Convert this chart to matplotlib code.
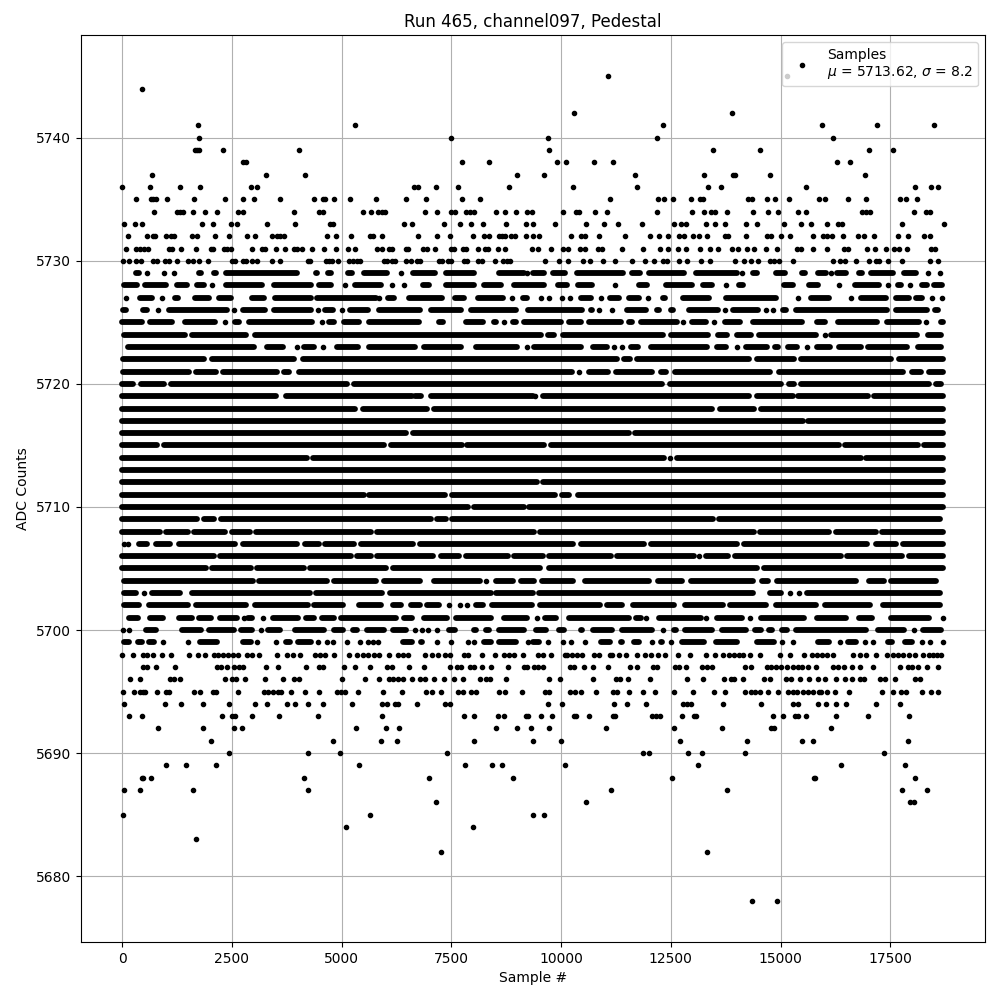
#!/usr/bin/env python3
"""Pedestal samples for run 465, channel 097."""

import matplotlib
matplotlib.use('Agg')
import matplotlib.pyplot as plt

# Sparse ADC levels: sample numbers, one list per level
dots_5745 = [11121, 15204]
dots_5744 = [472]
dots_5742 = [10344, 13955]
dots_5741 = [1752, 5340, 12378, 16011, 17268, 18570]
dots_5740 = [1775, 7526, 9750, 12241, 16263]
dots_5739 = [1683, 1729, 1767, 2323, 4060, 9773, 13520, 14594, 17085, 17634]
dots_5738 = [2780, 2841, 7785, 8402, 9956, 10161, 10801, 11235, 16354, 16651]
dots_5737 = [701, 3306, 4197, 9041, 9659, 11738, 13315, 13977, 14023, 14823, 16994]
dots_5736 = [15, 655, 1341, 1798, 2963, 3100, 6688, 6780, 7190, 7693, 8859, 10321, 11784,
             13406, 13703, 15646, 18136, 18502, 18662]
dots_5735 = [320, 678, 724, 792, 1044, 1660, 2369, 2780, 3032, 3626, 4403, 4593, 4639, 4860,
             5225, 5819, 6505, 6962, 7785, 8196, 11167, 12264, 12401, 12606, 13018, 13223,
             13292, 14320, 14411, 14754, 14937, 15257, 15943, 16080, 16605, 17017, 17793,
             17930, 18182]
dots_5734 = [746, 1272, 1333, 1409, 1638, 1912, 2186, 2666, 2780, 3946, 4517, 4608, 5522, 5705,
             5865, 5957, 6025, 6939, 7213, 7526, 7625, 7861, 7960, 8059, 8562, 8767, 9019,
             9255, 9384, 10093, 10390, 10458, 10824, 11098, 12241, 13041, 13315, 13475, 13566,
             13840, 14434, 14777, 15006, 15463, 15646, 16925, 17017, 17108, 18113, 18388, 18479]
dots_5733 = [61, 312, 472, 1843, 2095, 2506, 2643, 3329, 3968, 4768, 4837, 6459, 6642, 7373,
             7739, 7990, 8265, 8790, 9247, 9407, 9910, 10618, 11030, 11350, 11898, 12629, 12789,
             12903, 13360, 13566, 13798, 14274, 14526, 15143, 15531, 15760, 16125, 16377, 16468,
             17839, 18790]
dots_5732 = [152, 587, 724, 769, 1021, 1135, 1203, 1615, 1729, 2140, 2460, 2872, 3054, 3443,
             3557, 3626, 3717, 4700, 4905, 5248, 5682, 5751, 5957, 6779, 7213, 7510, 8036, 8280,
             8402, 8630, 8699, 8767, 8904, 8996, 9247, 9407, 9544, 10275, 10504, 10595, 10915,
             11509, 12081, 12286, 12492, 12743, 12858, 13063, 13200, 13383, 13794, 13863, 14274,
             14754, 14846, 15074, 15280, 15805, 16034, 16125, 16240, 16491, 16834, 16971, 17199,
             17748, 17976, 18342, 18479]
dots_5731 = [107, 335, 427, 518, 609, 1089, 1158, 1363, 1706, 2049, 2095, 2346, 2414, 2506, 2986,
             3214, 3283, 3534, 3740, 3946, 4014, 4128, 4357, 4631, 4905, 5180, 5340, 5842, 5957,
             6116, 6185, 6505, 6551, 6893, 6985, 7168, 7533, 7602, 7808, 7876, 8150, 8310, 8379,
             8607, 8767, 9384, 9521, 9818, 10093, 10207, 10481, 10595, 10892, 10984, 11441, 11921,
             12309, 12492, 12721, 12903, 13223, 13452, 13635, 13954, 14092, 14297, 14457, 14731,
             14983, 15440, 15531, 15805, 16125, 16514, 16605, 17039, 17222, 17473, 17656, 17771,
             17953, 18502, 18593]
dots_5730 = [38, 175, 335, 449, 724, 815, 998, 1089, 1272, 1523, 1638, 1775, 1980, 2529, 2597,
             2780, 2849, 2986, 3100, 3443, 3626, 4265, 4311, 4677, 4745, 4814, 4951, 5202, 5294,
             5385, 5454, 6002, 6071, 6185, 6253, 6505, 6619, 6756, 6825, 7259, 7327, 7465, 7533,
             7830, 7899, 8150, 8242, 8539, 8721, 8813, 8882, 9681, 10001, 10207, 10550, 10710,
             11007, 11281, 11669, 11966, 12172, 12378, 12469, 12743, 12926, 13246, 13452, 14023,
             14229, 14389, 14549, 14823, 14914, 15029, 15348, 16263, 16422, 16537, 16788, 17085,
             17245, 17313, 17519, 17839, 18479, 18662]
dots_5698 = [15, 251, 495, 587, 724, 929, 1135, 1546, 1752, 1912, 2118, 2209, 2323, 2437, 2552,
             2666, 2872, 2986, 3146, 3557, 3786, 3923, 4075, 4426, 4540, 4654, 4860, 5202, 5385,
             5522, 5636, 5774, 5888, 6116, 6322, 6436, 6551, 6939, 7099, 7236, 7396, 7510, 7830,
             7922, 8226, 8539, 8744, 8859, 8973, 9178, 9521, 9636, 9818, 10130, 10184, 10298,
             10410, 10527, 10790, 10915, 11160, 11212, 11372, 11532, 11784, 11966, 12103, 12264,
             12423, 12720, 12995, 13360, 13566, 13750, 13870, 13990, 14110, 14200, 14366, 14594,
             15051, 15280, 15600, 15780, 15900, 16010, 16110, 16263, 16720, 16870, 17017, 17245,
             17490, 17620, 17740, 17862, 18000, 18140, 18320, 18440, 18540, 18640, 18720]
dots_5697 = [487, 578, 792, 1226, 2186, 2277, 2414, 2575, 2689, 2780, 3306, 3580, 4220, 4517,
             4608, 5088, 5339, 5682, 6071, 6185, 6574, 6916, 7510, 7670, 7762, 7967, 8059, 8242,
             8447, 8836, 9201, 9270, 9430, 9521, 9636, 10253, 10344, 10573, 10778, 11121, 11624,
             11784, 12149, 12241, 12652, 12743, 12903, 13269, 13383, 13498, 14252, 14389, 14754,
             14846, 14960, 15074, 15211, 15348, 15463, 15554, 15691, 15874, 16263, 16377, 16514,
             16697, 16880, 17177, 17793, 17976, 18068, 18205, 18411, 18662]
dots_5696 = [190, 427, 1112, 1196, 1341, 2369, 2529, 2620, 2826, 3283, 3694, 3946, 4060, 5043,
             5568, 5888, 6116, 6208, 6322, 6436, 6642, 6825, 6939, 7145, 7373, 7602, 7808, 8196,
             8333, 8425, 8790, 9773, 10024, 10778, 11304, 11395, 11578, 12081, 12926, 13292,
             13771, 13931, 14000, 14206, 14686, 14823, 15188, 15303, 15508, 15714, 15920, 16080,
             16331, 16537, 16697, 16880, 16971, 17337, 17451, 17679, 18136, 18250]
dots_5695 = [38, 289, 427, 495, 541, 815, 1021, 1089, 1661, 1798, 2095, 2163, 2666, 3260, 3351,
             3466, 3580, 3649, 3877, 4197, 4517, 4928, 5020, 5111, 5408, 5979, 6413, 6962, 7099,
             7305, 7693, 7808, 7990, 8104, 8630, 8767, 9155, 9681, 9773, 10253, 10367, 10504,
             10847, 11235, 11327, 11601, 11921, 12195, 12629, 13063, 13543, 13794, 14252, 14389,
             14480, 14594, 14777, 15006, 15234, 15348, 15440, 15577, 15691, 15805, 15943, 15989,
             16125, 16308, 16628, 17382, 17634, 17817, 17930, 18296, 18502, 18662]
dots_5694 = [61, 998, 1363, 1866, 2460, 3054, 3329, 3786, 3968, 4265, 4608, 5271, 5957, 6071,
             6253, 6322, 6756, 7396, 7510, 9750, 10070, 11258, 11555, 11989, 12835, 12926, 13018,
             13749, 14617, 15348, 15463, 15920, 16103, 16331, 16560, 17245, 17793]
dots_5693 = [175, 472, 2300, 2529, 2597, 2986, 3603, 4494, 5957, 7830, 8059, 8607, 8744, 9247,
             9293, 9590, 9841, 10344, 10390, 10687, 11235, 11281, 12126, 12218, 12309, 12812,
             13086, 13132, 14891, 15120, 15394, 15463, 15646, 16331, 17062, 17999]
dots_5692 = [838, 1866, 2575, 2757, 5362, 6048, 6345, 8562, 9041, 9362, 9773, 11075, 12629,
             13726, 14846, 14914, 16217]
dots_5691 = [2049, 4837, 5934, 6299, 8059, 9407, 10047, 12766, 14297, 15554, 15805, 17976]
dots_5690 = [2460, 4265, 4997, 7442, 11921, 12058, 12949, 13269, 14252, 17428]
dots_5689 = [1021, 1478, 2163, 5431, 7853, 8470, 8699, 10138, 13178, 16445, 17908]
dots_5688 = [472, 495, 678, 4174, 7030, 8950, 12583, 15828, 15851, 18136]
dots_5687 = [61, 427, 1638, 4265, 11190, 13840, 17839, 18411]
dots_5686 = [7190, 10618, 18022, 18113]
dots_5685 = [38, 5682, 9392, 9659]
dots_5684 = [5134, 8036]
dots_5683 = [1706]
dots_5682 = [7305, 13383]
dots_5678 = [14412, 14983]

# Dense ADC levels: stretches of touching samples, (first, last)
runs_5729 = [(328, 404), (587, 587), (975, 975), (1203, 1203), (1490, 1500), (1760, 1805),
             (2118, 2163), (2384, 4014), (4441, 4471), (4707, 4776), (5164, 5271), (5530, 6055),
             (6375, 6375), (6665, 7152), (7411, 8051), (8615, 9194), (9255, 9255), (9392, 9651),
             (9849, 10123), (10397, 11464), (11662, 11845), (12058, 12850), (13124, 14069),
             (14183, 14183), (14419, 14511), (14952, 15150), (15547, 15608), (15905, 16087),
             (16202, 16202), (16339, 16544), (16841, 16925), (17123, 17634), (17870, 18159),
             (18433, 18433), (18700, 18700)]
runs_5728 = [(61, 358), (541, 1005), (1257, 1500), (1714, 1881), (2072, 2072), (2384, 3214),
             (3489, 4319), (4517, 4791), (5103, 5103), (5332, 5934), (6170, 6170), (6452, 6452),
             (6893, 7023), (7411, 8051), (8287, 8661), (8973, 9651), (9963, 10169), (10435, 10755),
             (11273, 11273), (11829, 12012), (12439, 13041), (13277, 13498), (13802, 13802),
             (14114, 14206), (15128, 15348), (15714, 15920), (16400, 16400), (16750, 17306),
             (17519, 17519), (17733, 17801), (18014, 18014), (18289, 18395), (18570, 18753)]
runs_5727 = [(99, 99), (419, 701), (929, 929), (1226, 1287), (1676, 1996), (2217, 2491),
             (2978, 3253), (3504, 4319), (4464, 5804), (5888, 5888), (6078, 6223), (6574, 7327),
             (7617, 7823), (8135, 8721), (8912, 8912), (9163, 9270), (9582, 9582), (9773, 9773),
             (10055, 10055), (10245, 10245), (10496, 10717), (10953, 10953), (11159, 11365),
             (11601, 11822), (12035, 12035), (12378, 12408), (12820, 13421), (13810, 14945),
             (15447, 15447), (15752, 16163), (16666, 16666), (16895, 17458), (17695, 17992),
             (18151, 18296), (18510, 18510), (18738, 18738)]
runs_5726 = [(38, 91), (480, 587), (830, 830), (1074, 2399), (2575, 2575), (2765, 3268),
             (3489, 4334), (4479, 4479), (4646, 4837), (5035, 5035), (5225, 5636), (5888, 6817),
             (7069, 7746), (7983, 9003), (9278, 10527), (10725, 10755), (10915, 10915),
             (11197, 11197), (11548, 11974), (12225, 12279), (12553, 12599), (12972, 13627),
             (13794, 13794), (13962, 14541), (14724, 14724), (14891, 14891), (15105, 15173),
             (15409, 17497), (17695, 18411), (18593, 18654)]
runs_5725 = [(8, 472), (647, 1158), (1440, 2125), (2369, 2369), (2590, 2681), (2917, 4357),
             (4570, 4570), (4745, 4852), (5073, 5423), (5660, 6795), (7244, 7350), (7868, 8265),
             (8516, 8562), (8744, 8744), (8950, 9003), (9201, 10032), (10215, 10504),
             (10672, 11418), (11601, 11669), (11867, 12698), (12835, 12835), (13025, 13345),
             (13543, 13543), (13794, 14122), (14419, 15554), (15889, 16072), (16362, 17268),
             (17481, 18220), (18380, 18380), (18723, 18780)]
runs_5724 = [(61, 1440), (1607, 2849), (3047, 9575), (9735, 9879), (10093, 12370), (12553, 13406),
             (13635, 13840), (14054, 14373), (14571, 15859), (16072, 16072), (16209, 18182),
             (18418, 18730)]
runs_5723 = [(137, 3024), (3313, 3694), (3999, 3999), (4174, 4395), (4608, 4608), (4921, 5400),
             (5660, 6695), (6916, 7746), (8097, 9041), (9270, 9270), (9430, 10489), (10763, 11098),
             (11250, 11250), (11426, 11426), (11639, 11807), (12096, 13383), (13604, 13802),
             (14053, 14053), (14267, 14754), (14937, 14998), (15219, 15440), (15668, 15668),
             (15882, 16186), (16400, 16887), (17047, 17953), (18190, 18715)]
runs_5722 = [(23, 1881), (2057, 3938), (4136, 11311), (11479, 11616), (11776, 14335),
             (14511, 15364), (15523, 17573), (17755, 18776)]
runs_5721 = [(38, 1539), (1699, 2148), (2323, 3542), (3717, 3831), (4060, 10298), (10458, 10458),
             (10687, 11113), (11296, 12126), (12324, 12431), (12644, 14815), (15013, 17862),
             (18060, 18258), (18441, 18776)]
runs_5720 = [(10, 260), (440, 970), (1140, 5160), (5300, 12350), (12530, 15060), (15260, 15360),
             (15520, 18450), (18610, 18720)]
runs_5719 = [(20, 3520), (3760, 6640), (6700, 6850), (7070, 9390), (9450, 9450), (9620, 14330),
             (14510, 15350), (15460, 17060), (17200, 18780)]
runs_5718 = [(10, 5340), (5520, 6980), (7130, 13500), (13680, 14450), (14610, 18780)]
runs_5717 = [(10, 15560), (15680, 18780)]
runs_5716 = [(10, 6490), (6650, 11590), (11720, 18780)]
runs_5715 = [(10, 800), (980, 6000), (6150, 7780), (7900, 9660), (9810, 16390), (16540, 18190),
             (18340, 18780)]
runs_5714 = [(10, 4230), (4370, 12400), (12540, 12540), (12680, 16890), (17020, 18780)]
runs_5713 = [(10, 18780)]
runs_5712 = [(10, 9500), (9630, 18780)]
runs_5711 = [(10, 5530), (5655, 7400), (7550, 9910), (10060, 10230), (10430, 18780)]
runs_5710 = [(10, 7910), (8060, 9185), (9320, 18780)]
runs_5709 = [(10, 1715), (1877, 2101), (2264, 7064), (7214, 7413), (7551, 13524), (13649, 18710)]
runs_5708 = [(10, 867), (1016, 1515), (1665, 2363), (2513, 2924), (3074, 5693), (5830, 9433),
             (9571, 14446), (14584, 16168), (16330, 17228), (17365, 18780)]
runs_5707 = [(56, 56), (156, 156), (405, 580), (779, 1104), (1303, 2600), (2775, 4009),
             (4196, 4508), (4645, 5319), (5481, 6665), (6815, 10306), (10494, 11928),
             (12102, 14073), (14223, 17040), (17228, 17689), (17863, 18780)]
runs_5706 = [(10, 2101), (2251, 5231), (5368, 5693), (5830, 7126), (7289, 7700), (7862, 8835),
             (8972, 9621), (9758, 11179), (11329, 13075), (13187, 13187), (13349, 13861),
             (14010, 16440), (16570, 17840), (17990, 18780)]
runs_5705 = [(10, 1926), (2076, 2949), (3099, 4171), (4308, 6042), (6204, 9558), (9758, 14509),
             (14684, 18780)]
runs_5704 = [(56, 3011), (3149, 4695), (4857, 5817), (6004, 6815), (7139, 8186), (8336, 8336),
             (8561, 8935), (9122, 9434), (9596, 10306), (10593, 12052), (12252, 12800),
             (13000, 14422), (14622, 14759), (14970, 16791), (17078, 17415), (17577, 18599)]
runs_5703 = [(56, 330), (505, 505), (705, 1328), (1615, 4296), (4445, 5942), (6142, 8436),
             (8561, 9396), (9533, 14422), (14820, 15069), (15282, 15282), (15469, 15469),
             (15656, 18700)]
runs_5702 = [(56, 393), (617, 1515), (1702, 2849), (3049, 4259), (4396, 5069), (5418, 5917),
             (6191, 6378), (6603, 6815), (6977, 7252), (7488, 7488), (7737, 7737), (7887, 7887),
             (8100, 8248), (8473, 9371), (9571, 10930), (11091, 11428), (11678, 12614),
             (12876, 13736), (13898, 14733), (14958, 15856), (16081, 17104), (17387, 18700)]
runs_5701 = [(160, 373), (647, 945), (1303, 1615), (1760, 2034), (2247, 2628), (2803, 2803),
             (2894, 2986), (3230, 3230), (3466, 4029), (4212, 4395), (4578, 4852), (5012, 6261),
             (6444, 6642), (6916, 7442), (7640, 8432), (8744, 9270), (9499, 9499), (9681, 9917),
             (10215, 11593), (11753, 11860), (11989, 11989), (12286, 13231), (13353, 13353),
             (13597, 14183), (14358, 14358), (14610, 15592), (15889, 16544), (16857, 17154),
             (17580, 18449), (18761, 18761)]
runs_5700 = [(38, 38), (175, 175), (556, 777), (1379, 1805), (1988, 2567), (2727, 2986),
             (3176, 3176), (3351, 3618), (3961, 4624), (4860, 5065), (5278, 5370), (5598, 5995),
             (6193, 6490), (6703, 6703), (6855, 6855), (7008, 7008), (7213, 7213), (7487, 7609),
             (8059, 8104), (8326, 8394), (8630, 9194), (9468, 9689), (10001, 10108),
             (10496, 10527), (10763, 11212), (11433, 12126), (12378, 12378), (12629, 12660),
             (12881, 13498), (13718, 14259), (14480, 14602), (14785, 14869), (15089, 15196),
             (15409, 17001), (17276, 17877), (18113, 18113), (18304, 18715)]
runs_5699 = [(61, 168), (366, 472), (632, 739), (952, 952), (1523, 1523), (1790, 2186),
             (2765, 2948), (3085, 3085), (3519, 3519), (3755, 3847), (4022, 4319), (4494, 4494),
             (4684, 4684), (4822, 4822), (5157, 5157), (5454, 5454), (5621, 5621), (5751, 5751),
             (5865, 5865), (6421, 6642), (6840, 6870), (7213, 7213), (7518, 7518), (7922, 7922),
             (8059, 8059), (8280, 8432), (8630, 9003), (9293, 9293), (9392, 9537), (9750, 9750),
             (10093, 10093), (10260, 10260), (10588, 10588), (10953, 11159), (11410, 11441),
             (11715, 11822), (12111, 12111), (12324, 12355), (12553, 12553), (12804, 13307),
             (13581, 14069), (14511, 14907), (15082, 15082), (15348, 15348), (15905, 16163),
             (16415, 16415), (16590, 16773), (16986, 16986), (17177, 17177), (17504, 17611),
             (17908, 18068), (18281, 18281), (18471, 18471), (18761, 18761)]

dot_levels = {
    5745: dots_5745, 5744: dots_5744, 5742: dots_5742, 5741: dots_5741, 5740: dots_5740,
    5739: dots_5739, 5738: dots_5738, 5737: dots_5737, 5736: dots_5736, 5735: dots_5735,
    5734: dots_5734, 5733: dots_5733, 5732: dots_5732, 5731: dots_5731, 5730: dots_5730,
    5698: dots_5698, 5697: dots_5697, 5696: dots_5696, 5695: dots_5695, 5694: dots_5694,
    5693: dots_5693, 5692: dots_5692, 5691: dots_5691, 5690: dots_5690, 5689: dots_5689,
    5688: dots_5688, 5687: dots_5687, 5686: dots_5686, 5685: dots_5685, 5684: dots_5684,
    5683: dots_5683, 5682: dots_5682, 5678: dots_5678,
}
run_levels = {
    5729: runs_5729, 5728: runs_5728, 5727: runs_5727, 5726: runs_5726, 5725: runs_5725,
    5724: runs_5724, 5723: runs_5723, 5722: runs_5722, 5721: runs_5721, 5720: runs_5720,
    5719: runs_5719, 5718: runs_5718, 5717: runs_5717, 5716: runs_5716, 5715: runs_5715,
    5714: runs_5714, 5713: runs_5713, 5712: runs_5712, 5711: runs_5711, 5710: runs_5710,
    5709: runs_5709, 5708: runs_5708, 5707: runs_5707, 5706: runs_5706, 5705: runs_5705,
    5704: runs_5704, 5703: runs_5703, 5702: runs_5702, 5701: runs_5701, 5700: runs_5700,
    5699: runs_5699,
}

label = 'Samples\n$\\mu$ = 5713.62, $\\sigma$ = 8.2'


def recalibrate(sample):
    """The lists above were read with a slightly off x scale, correct for it here."""
    return max(0, 0.997 * sample - 11)


fig, ax = plt.subplots(figsize=(10, 10), dpi=100)

xs, ys = [], []
for level, samples in dot_levels.items():
    xs += [recalibrate(s) for s in samples]
    ys += [level] * len(samples)

# Touching samples merge into one band, same width as the '.' marker
for level, runs in run_levels.items():
    for first, last in runs:
        if first == last:
            xs.append(recalibrate(first))
            ys.append(level)
        else:
            ax.hlines(level, recalibrate(first), recalibrate(last), colors='k', linewidth=4.2,
                      capstyle='round', zorder=2)

ax.plot(xs, ys, 'k.', label=label)

ax.set_title('Run 465, channel097, Pedestal')
ax.set_xlabel('Sample #')
ax.set_ylabel('ADC Counts')
ax.ticklabel_format(axis='y', useOffset=False)
ax.grid(True)
ax.legend(loc='upper right')

fig.subplots_adjust(left=0.081, right=0.985, top=0.965, bottom=0.058)
plt.savefig('out.png', dpi=100)
